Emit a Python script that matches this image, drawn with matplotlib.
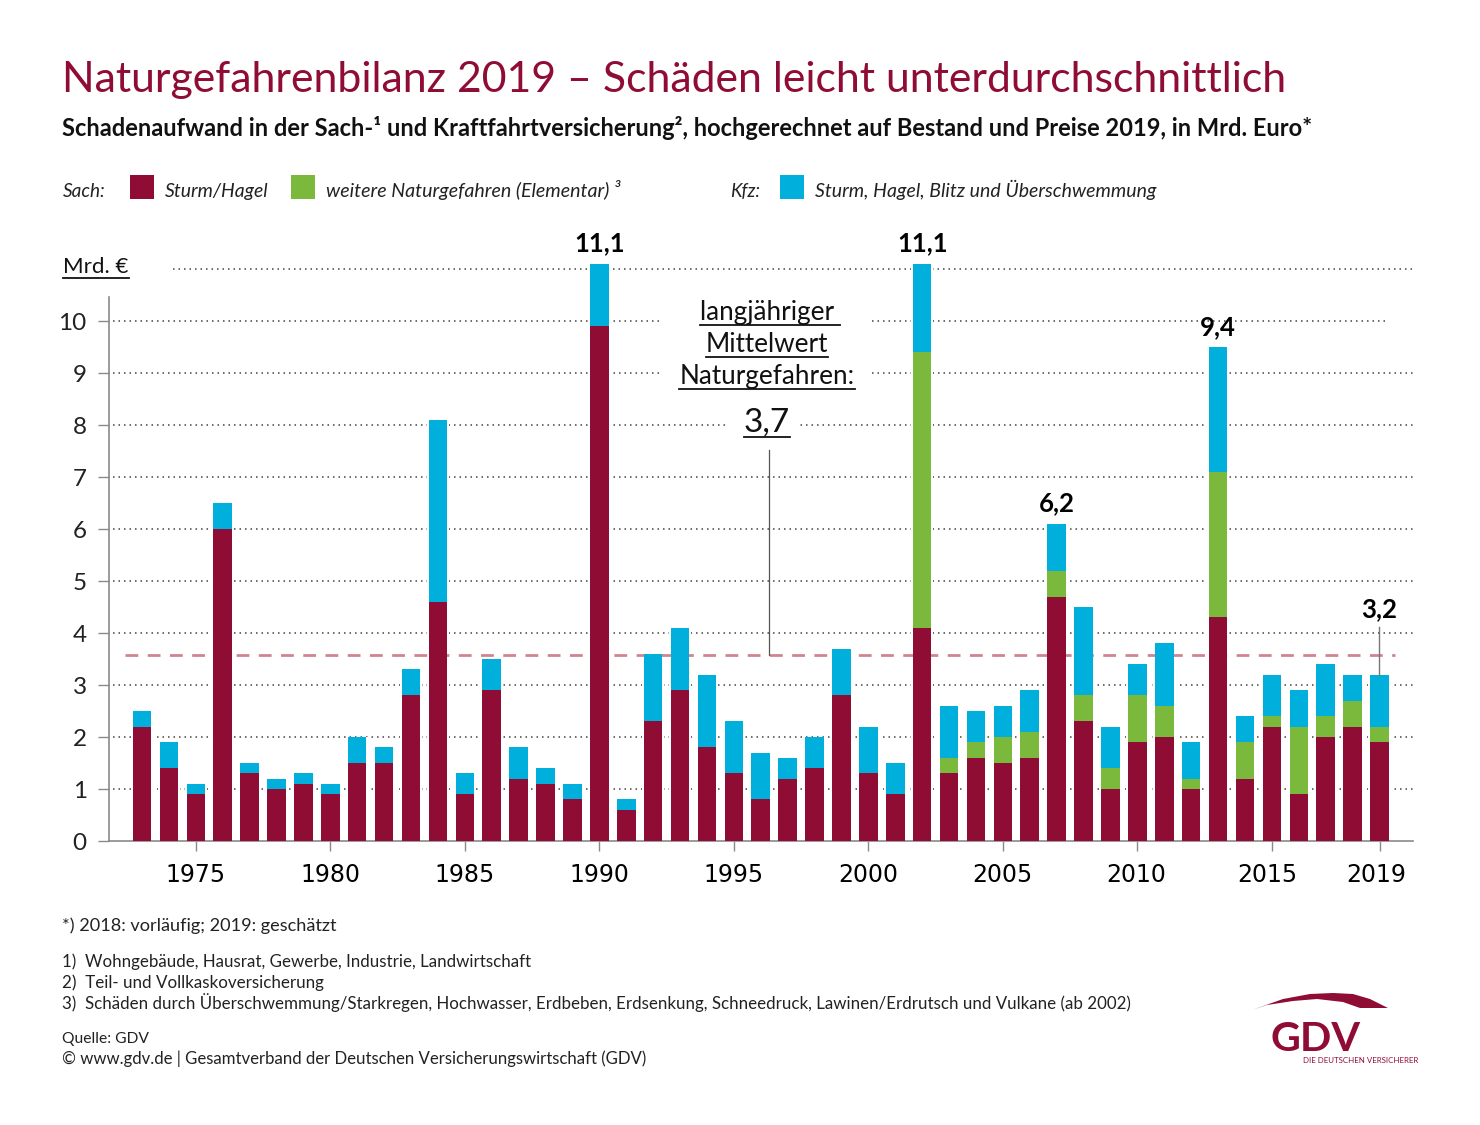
import matplotlib

matplotlib.use("Agg")

import matplotlib.pyplot as plt
import numpy as np
from matplotlib.patches import Polygon, Rectangle
from matplotlib.transforms import ScaledTranslation

W, H = 1480, 1125
CRIMSON = "#8f0c35"
GREEN = "#7ab93c"
BLUE = "#00afdb"
GRID = "#444444"
AXIS = "#8a8a8a"
FONT = ["Lato", "Noto Sans", "DejaVu Sans"]

years = list(range(1973, 2020))
sturm = [2.2, 1.4, 0.9, 6.0, 1.3, 1.0, 1.1, 0.9, 1.5, 1.5, 2.8, 4.6, 0.9, 2.9, 1.2, 1.1, 0.8,
         9.9, 0.6, 2.3, 2.9, 1.8, 1.3, 0.8, 1.2, 1.4, 2.8, 1.3, 0.9, 4.1, 1.3, 1.6, 1.5, 1.6,
         4.7, 2.3, 1.0, 1.9, 2.0, 1.0, 4.3, 1.2, 2.2, 0.9, 2.0, 2.2, 1.9]
elementar = [0] * 29 + [5.3, 0.3, 0.3, 0.5, 0.5, 0.5, 0.5, 0.4, 0.9, 0.6, 0.2, 2.8, 0.7, 0.2,
                        1.3, 0.4, 0.5, 0.3]
kfz = [0.3, 0.5, 0.2, 0.5, 0.2, 0.2, 0.2, 0.2, 0.5, 0.3, 0.5, 3.5, 0.4, 0.6, 0.6, 0.3, 0.3,
       1.2, 0.2, 1.3, 1.2, 1.4, 1.0, 0.9, 0.4, 0.6, 0.9, 0.9, 0.6, 1.7, 1.0, 0.6, 0.6, 0.8,
       0.9, 1.7, 0.8, 0.6, 1.2, 0.7, 2.4, 0.5, 0.8, 0.7, 1.0, 0.5, 1.0]
peak_years = [1990, 2002, 2007, 2013, 2019]
peak_labels = ["11,1", "11,1", "6,2", "9,4", "3,2"]
peak_label_heights = [11.27, 11.27, 6.27, 9.66, 4.22]
mean_line = 3.58
xtick_years = [1975, 1980, 1985, 1990, 1995, 2000, 2005, 2010, 2015, 2019]
ytick_values = list(range(0, 11))

fig = plt.figure(figsize=(W / 100, H / 100), dpi=100, facecolor="white")

# main axes, placed in pixels: y=0 sits at px 841, y=11.1 at px 264
left, right, top, bottom = 109, 1413, 264, 841
ax = fig.add_axes([left / W, 1 - bottom / H, (right - left) / W, (bottom - top) / H])
ax.set_ylim(0, 11.1)
x_per_year = (1379.5 - 142) / 46
ax.set_xlim(1973 - (142 - left) / x_per_year, 1973 + (right - 142) / x_per_year)
ax.patch.set_alpha(0)

for side in ["top", "right"]:
    ax.spines[side].set_visible(False)
for side in ["left", "bottom"]:
    ax.spines[side].set_color(AXIS)
    ax.spines[side].set_linewidth(1.2)
ax.spines["left"].set_bounds(0, 10.46)

# dotted grid, 11 is the "Mrd. €" line
x0 = ax.get_xlim()[0]
to_year = lambda px: x0 + (px - left) / x_per_year
for value in range(1, 11):
    end = 1385 if value == 10 else 1415
    ax.plot([to_year(113), to_year(end)], [value, value], color=GRID, lw=1.1,
            ls=(0, (1, 2.6)), clip_on=False, zorder=1)
ax.plot([to_year(173), to_year(1415)], [11, 11], color=GRID, lw=1.1,
        ls=(0, (1, 2.6)), clip_on=False, zorder=1)

sturm = np.array(sturm)
elementar = np.array(elementar)
kfz = np.array(kfz)
total = sturm + elementar + kfz

# white halo keeps the grid away from the bars
ax.bar(years, total, width=0.84, color="white", zorder=2)
ax.bar(years, sturm, width=0.69, color=CRIMSON, zorder=3)
ax.bar(years, elementar, width=0.69, bottom=sturm, color=GREEN, zorder=3)
ax.bar(years, kfz, width=0.69, bottom=sturm + elementar, color=BLUE, zorder=3)

ax.plot([to_year(125), to_year(1395)], [mean_line, mean_line], color="#cf858f", lw=2,
        ls=(0, (4.6, 3.4)), zorder=2.5)

ax.set_xticks(xtick_years)
ax.set_xticklabels([str(y) for y in xtick_years], fontsize=17, family="DejaVu Sans")
ax.tick_params(axis="x", length=7.5, width=1, color=AXIS, pad=8, labelcolor="black")
# the last labels sit a little left of their ticks in the original
for label, shift in zip(ax.get_xticklabels()[-3:], [-1, -5, -3]):
    label.set_transform(label.get_transform() + ScaledTranslation(shift / 100, 0, fig.dpi_scale_trans))
ax.set_yticks(ytick_values)
ax.set_yticklabels([str(v) for v in ytick_values], fontsize=17.5, family=FONT)
ax.tick_params(axis="y", length=8, width=1, color=AXIS, pad=8, labelcolor="#222222")

for year, label, height in zip(peak_years, peak_labels, peak_label_heights):
    ax.text(year, height, label, ha="center", va="bottom", fontsize=18.5, fontweight="bold",
            family=FONT, zorder=6, clip_on=False)

# overlay in plain pixel coordinates for the page furniture
page = fig.add_axes([0, 0, 1, 1])
page.set_xlim(0, W)
page.set_ylim(H, 0)
page.axis("off")
page.patch.set_alpha(0)


def fitted(x, y, s, width, **kw):
    # scale the font until the text has the same width as in the original
    text = page.text(x, y, s, family=FONT, **kw)
    renderer = fig.canvas.get_renderer()
    size = text.get_fontsize()
    text.set_fontsize(size * width / text.get_window_extent(renderer).width)
    return text


def underlined(cx, base, s, size):
    text = page.text(cx, base, s, ha="center", va="baseline", fontsize=size, family=FONT,
                     color="#111111", zorder=5)
    box = text.get_window_extent(fig.canvas.get_renderer())
    page.plot([box.x0, box.x1], [base + 4.5, base + 4.5], color="#111111", lw=1.3, zorder=6)


fitted(62, 92, "Naturgefahrenbilanz 2019 – Schäden leicht unterdurchschnittlich", 1224,
       fontsize=30, color=CRIMSON, va="baseline")
fitted(62, 136, "Schadenaufwand in der Sach-¹ und Kraftfahrtversicherung², hochgerechnet auf "
       "Bestand und Preise 2019, in Mrd. Euro*", 1252, fontsize=16, fontweight="bold",
       color="#111111", va="baseline")

# legend
for px, color in [(130, CRIMSON), (291, GREEN), (780, BLUE)]:
    page.add_patch(Rectangle((px, 175), 23.5, 23.5, facecolor=color, edgecolor="none"))
for px, s, width in [(63, "Sach:", 43), (165, "Sturm/Hagel", 104),
                     (326, "weitere Naturgefahren (Elementar) ³", 297), (730, "Kfz:", 30),
                     (815, "Sturm, Hagel, Blitz und Überschwemmung", 343)]:
    fitted(px, 197, s, width, fontsize=14, style="italic", color="#222222", va="baseline")

# gaps in the grid around the mean annotation
for x_from, x_to, y_from, y_to in [(661, 871, 312, 330), (663, 869, 364, 382), (728, 799, 416, 434)]:
    page.add_patch(Rectangle((x_from, y_from), x_to - x_from, y_to - y_from, facecolor="white",
                             edgecolor="none", zorder=4))

underlined(96, 273, "Mrd. €", 16)
underlined(770, 320, "langjähriger ", 18.8)
underlined(767, 352, "Mittelwert", 18.8)
underlined(767, 384, "Naturgefahren:", 18.8)
underlined(767, 432, "3,7", 24)
page.plot([768.5, 768.5], [450, 655], color="#555555", lw=0.9)
page.plot([1379, 1379], [627, 675], color="#777777", lw=1)

# footnotes
notes = [(931, "*) 2018: vorläufig; 2019: geschätzt", 274),
         (967, "1)  Wohngebäude, Hausrat, Gewerbe, Industrie, Landwirtschaft", 465),
         (988, "2)  Teil- und Vollkaskoversicherung", 261),
         (1009, "3)  Schäden durch Überschwemmung/Starkregen, Hochwasser, Erdbeben, Erdsenkung, "
                "Schneedruck, Lawinen/Erdrutsch und Vulkane (ab 2002)", 1062),
         (1043, "Quelle: GDV", 87),
         (1064, "© www.gdv.de | Gesamtverband der Deutschen Versicherungswirtschaft (GDV)", 582)]
for py, s, width in notes:
    fitted(62, py, s, width, fontsize=12, color="#222222", va="baseline")

# logo
arc_top = [(1252, 1010), (1283, 999), (1310, 994), (1333, 993), (1353, 994), (1370, 999), (1388, 1008)]
arc_low = [(1360, 1008), (1343, 1002), (1317, 999), (1293, 1001), (1267, 1005)]
page.add_patch(Polygon(arc_top + arc_low, closed=True, facecolor=CRIMSON, edgecolor="none"))
fitted(1270, 1051, "GDV", 90, fontsize=34, fontweight="bold", color=CRIMSON, va="baseline")
fitted(1303, 1063, "DIE DEUTSCHEN VERSICHERER", 115, fontsize=6, color=CRIMSON, va="baseline")

fig.savefig("out.png", dpi=100)
